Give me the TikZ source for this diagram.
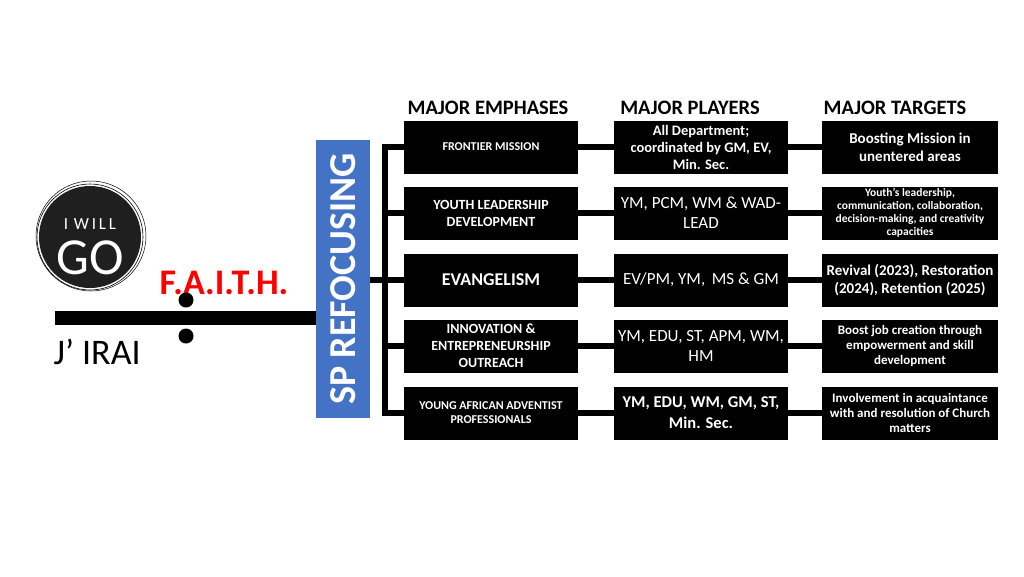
\documentclass[tikz,border=0pt]{standalone}
\usepackage{fontspec}
\setmainfont{Carlito}
\begin{document}
\begin{tikzpicture}[x=1pt,y=-1pt,
 bx/.style={fill=black,text=white,draw=black,minimum width=173pt,minimum height=52pt,align=center,inner sep=1pt,font=\bfseries\fontsize{12}{14}\selectfont},
 hd/.style={font=\bfseries\fontsize{20.5}{22}\selectfont},
 ln/.style={line width=5.5pt,line cap=butt}]
\useasboundingbox (0,0) rectangle (1024,576);
% logo
\fill[black!88] (90,237) circle (51);
\draw[black,line width=0.6pt] (90,237) circle (53);
\draw[black,line width=0.5pt] (91,236) circle (55);
\node[text=white,font=\fontsize{17}{18}\selectfont] (iw) at (90,224) {I\,\,W\,I\,L\,L};
\node[text=white,font=\fontsize{52}{52}\selectfont] (go) at (90,258) {GO};
\node[text=red,font=\bfseries\fontsize{36}{38}\selectfont,anchor=west] (faith) at (156,283) {F.A.I.T.H.};
\fill[black] (55,311) rectangle (316,325);
\fill[black] (186,300) circle (7.5);
\fill[black] (186,336) circle (7.5);
\node[font=\fontsize{36}{38}\selectfont,anchor=west] (jirai) at (50,352) {J’ IRAI};
% blue bar
\node[fill={rgb,255:red,68;green,114;blue,196},minimum width=54pt,minimum height=278pt,inner sep=0pt] (bar) at (343,279) {};
\node[rotate=90,text=white,font=\bfseries\fontsize{38}{40}\selectfont] (sp) at (343,279) {SP REFOCUSING};
% headers
\node[hd] (h1) at (488,108) {MAJOR EMPHASES};
\node[hd] (h2) at (690,108) {MAJOR PLAYERS};
\node[hd] (h3) at (895,108) {MAJOR TARGETS};
% boxes
\foreach \i/\y in {1/147,2/213,3/280,4/346,5/413}{
 \coordinate (s\i) at (385,\y);
}
\node[bx] (a1) at (491,147) {FRONTIER MISSION};
\node[bx,font=\bfseries\fontsize{14}{17}\selectfont] (a2) at (491,213) {YOUTH LEADERSHIP\\DEVELOPMENT};
\node[bx,font=\bfseries\fontsize{18}{20}\selectfont] (a3) at (491,280) {EVANGELISM};
\node[bx,font=\bfseries\fontsize{14}{17}\selectfont] (a4) at (491,346) {INNOVATION \&\\ENTREPRENEURSHIP\\OUTREACH};
\node[bx] (a5) at (491,413) {YOUNG AFRICAN ADVENTIST\\PROFESSIONALS};
\node[bx,font=\bfseries\fontsize{14.5}{17}\selectfont] (b1) at (701,147) {All Department;\\coordinated by GM, EV,\\Min. Sec.};
\node[bx,font=\fontsize{17}{20}\selectfont] (b2) at (701,213) {YM, PCM, WM \& WAD-\\LEAD};
\node[bx,font=\fontsize{17}{20}\selectfont] (b3) at (701,280) {EV/PM, YM,\, MS \& GM};
\node[bx,font=\fontsize{17}{20}\selectfont] (b4) at (701,346) {YM, EDU, ST, APM, WM,\\HM};
\node[bx,font=\bfseries\fontsize{16.5}{21}\selectfont] (b5) at (701,413) {YM, EDU, WM, GM, ST,\\Min. Sec.};
\node[bx,minimum width=175pt,font=\bfseries\fontsize{15}{18}\selectfont] (c1) at (910,147) {Boosting Mission in\\unentered areas};
\node[bx,minimum width=175pt,font=\bfseries\fontsize{11.5}{13}\selectfont] (c2) at (910,213) {Youth's leadership,\\communication, collaboration,\\decision-making, and creativity\\capacities};
\node[bx,minimum width=175pt,font=\bfseries\fontsize{15}{18}\selectfont] (c3) at (910,280) {Revival (2023), Restoration\\(2024), Retention (2025)};
\node[bx,minimum width=175pt,font=\bfseries\fontsize{13}{15}\selectfont] (c4) at (910,346) {Boost job creation through\\empowerment and skill\\development};
\node[bx,minimum width=175pt,font=\bfseries\fontsize{13}{15}\selectfont] (c5) at (910,413) {Involvement in acquaintance\\with and resolution of Church\\matters};
% connectors
\draw[ln,line cap=rect] (s1) -- (s5);
\draw[ln] (bar.east |- s3) -- (s3);
\foreach \i in {1,...,5}{
 \draw[ln] (s\i) -- (a\i.west);
 \draw[ln] (a\i.east) -- (b\i.west);
 \draw[ln] (b\i.east) -- (c\i.west);
}
\end{tikzpicture}
\end{document}
